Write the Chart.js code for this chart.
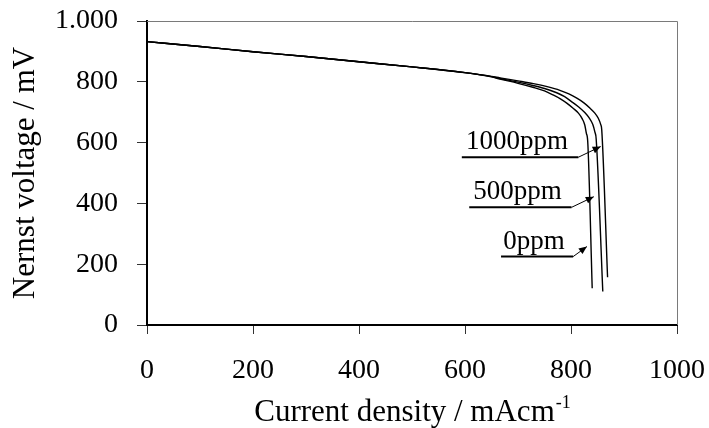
<!DOCTYPE html>
<html>
<head>
<meta charset="utf-8">
<script src="https://cdn.jsdelivr.net/npm/chart.js@4.4.1/dist/chart.umd.min.js"></script>
<style>
  html, body { margin: 0; padding: 0; background: #fff; }
  #wrap { width: 709px; height: 428px; position: relative; }
</style>
</head>
<body>
<div id="wrap"><canvas id="chart"></canvas></div>
<script>
/* Nernst voltage vs current density, three H2S levels */

const X_TICKS = [0, 200, 400, 600, 800, 1000];
const Y_TICKS = [0, 200, 400, 600, 800, 1000];

const x0ppm = [0, 100, 200, 300, 400, 500, 600, 650, 666, 700, 728, 750, 766, 780, 792, 804, 814, 821, 826, 829, 831.5, 840];
const y0ppm = [932, 916, 899, 883, 866, 849, 830, 816, 809, 795, 782, 770, 757, 744, 730, 713, 697, 679, 658, 630, 605, 121];

const x500ppm = [0, 100, 200, 300, 400, 500, 600, 650, 666, 700, 728, 750, 773, 788, 801, 814, 826, 834, 841, 845, 847.5, 860];
const y500ppm = [932, 916, 899, 883, 866, 849, 830, 817, 811, 799, 788, 778, 764, 751, 735, 718, 699, 682, 660, 635, 612, 110];

const x1000ppm = [0, 100, 200, 300, 400, 500, 600, 650, 666, 700, 729, 755, 779, 796, 811, 825, 836, 845, 851.5, 856, 858, 869];
const y1000ppm = [932, 916, 899, 883, 866, 849, 830, 818, 813, 803, 794, 784, 772, 760, 746, 730, 713, 697, 680, 660, 642, 157];

const SERIES_LABELS = ["0ppm", "500ppm", "1000ppm"];

// callouts, in data units: underline from x1 to x2 at y, arrow to (tx, ty)
const CALLOUTS = [
  { text: "1000ppm", x1: 594, x2: 814, y: 552, tx: 856, ty: 587 },
  { text: "500ppm",  x1: 608, x2: 801, y: 387, tx: 843, ty: 422 },
  { text: "0ppm",    x1: 668, x2: 804, y: 225, tx: 830, ty: 258 }
];

const FONT = "'Liberation Serif', 'Times New Roman', serif";

function pts(xs, ys) {
  return xs.map((x, i) => ({ x, y: ys[i] }));
}

const seriesData = [pts(x0ppm, y0ppm), pts(x500ppm, y500ppm), pts(x1000ppm, y1000ppm)];

// pas de marge auto autour des étiquettes : la zone de tracé est fixée par layout.padding
function fixBox(size) {
  return s => {
    if (s.isHorizontal()) s.height = size; else s.width = size;
    s.paddingTop = s.paddingBottom = s.paddingLeft = s.paddingRight = 0;
  };
}

/* -------- plugin : cadre, titre X, flèches -------- */
const decorPlugin = {
  id: "decor",
  afterDraw(chart) {
    const { ctx, chartArea: a, scales } = chart;
    const sx = scales.x, sy = scales.y;

    ctx.save();
    // top + right frame (gray)
    ctx.strokeStyle = "#7a7a7a";
    ctx.lineWidth = 1;
    ctx.beginPath();
    ctx.moveTo(a.left, a.top + 0.5);
    ctx.lineTo(a.right + 0.5, a.top + 0.5);
    ctx.lineTo(a.right + 0.5, a.bottom);
    ctx.stroke();

    // x title with superscript
    const main = "Current density / mAcm";
    const sup = "-1";
    ctx.fillStyle = "#000";
    ctx.textBaseline = "alphabetic";
    ctx.font = "31px " + FONT;
    const wMain = ctx.measureText(main).width;
    ctx.font = "18px " + FONT;
    const wSup = ctx.measureText(sup).width;
    const cx = (a.left + a.right) / 2;
    const startX = cx - (wMain + wSup) / 2;
    const baseY = 421;
    ctx.font = "31px " + FONT;
    ctx.textAlign = "left";
    ctx.fillText(main, startX, baseY);
    ctx.font = "18px " + FONT;
    ctx.fillText(sup, startX + wMain + 1, baseY - 13);

    // callouts
    ctx.font = "27px " + FONT;
    ctx.textAlign = "center";
    CALLOUTS.forEach(c => {
      const px1 = sx.getPixelForValue(c.x1);
      const px2 = sx.getPixelForValue(c.x2);
      const py = sy.getPixelForValue(c.y);
      const tx = sx.getPixelForValue(c.tx);
      const ty = sy.getPixelForValue(c.ty);

      ctx.fillText(c.text, (px1 + px2) / 2 - 3, py - 8);

      ctx.strokeStyle = "#000";
      ctx.lineWidth = 2;
      ctx.beginPath();
      ctx.moveTo(px1, py);
      ctx.lineTo(px2, py);
      ctx.stroke();

      ctx.lineWidth = 1;
      ctx.beginPath();
      ctx.moveTo(px2, py);
      ctx.lineTo(tx, ty);
      ctx.stroke();

      // arrow head
      const ang = Math.atan2(ty - py, tx - px2);
      const L = 8, W = 3.5;
      ctx.beginPath();
      ctx.moveTo(tx, ty);
      ctx.lineTo(tx - L * Math.cos(ang) + W * Math.sin(ang), ty - L * Math.sin(ang) - W * Math.cos(ang));
      ctx.lineTo(tx - L * Math.cos(ang) - W * Math.sin(ang), ty - L * Math.sin(ang) + W * Math.cos(ang));
      ctx.closePath();
      ctx.fillStyle = "#000";
      ctx.fill();
    });
    ctx.restore();
  }
};

new Chart(document.getElementById("chart"), {
  type: "scatter",
  data: {
    datasets: SERIES_LABELS.map((lab, i) => ({
      label: lab,
      data: seriesData[i],
      showLine: true,
      borderColor: "#000",
      borderWidth: 1.4,
      pointRadius: 0,
      cubicInterpolationMode: "monotone"
    }))
  },
  options: {
    responsive: true,
    maintainAspectRatio: false,
    animation: false,
    layout: { padding: { left: 0, right: 32, top: 21, bottom: 0 } },
    plugins: {
      legend: { display: false },
      tooltip: { enabled: false }
    },
    scales: {
      x: {
        type: "linear",
        min: 0,
        max: 1000,
        afterFit: fixBox(103),
        afterBuildTicks: s => { s.ticks = X_TICKS.map(v => ({ value: v })); },
        grid: { drawOnChartArea: false, drawTicks: true, tickLength: 9, color: "#333", lineWidth: 1 },
        border: { color: "#000", width: 2 },
        ticks: {
          color: "#000",
          font: { family: FONT, size: 28 },
          padding: 20,
          maxRotation: 0,
          callback: v => String(v)
        }
      },
      y: {
        type: "linear",
        min: 0,
        max: 1000,
        afterFit: fixBox(147),
        afterBuildTicks: s => { s.ticks = Y_TICKS.map(v => ({ value: v })); },
        grid: { drawOnChartArea: false, drawTicks: true, tickLength: 10, color: "#333", lineWidth: 1 },
        border: { color: "#000", width: 2 },
        ticks: {
          color: "#000",
          font: { family: FONT, size: 28 },
          padding: 19,
          callback: v => v === 1000 ? "1.000" : String(v)
        },
        title: {
          display: true,
          text: "Nernst voltage / mV",
          color: "#000",
          font: { family: FONT, size: 31 },
          padding: { top: 7, bottom: 0 }
        }
      }
    }
  },
  plugins: [decorPlugin]
});
</script>
</body>
</html>
